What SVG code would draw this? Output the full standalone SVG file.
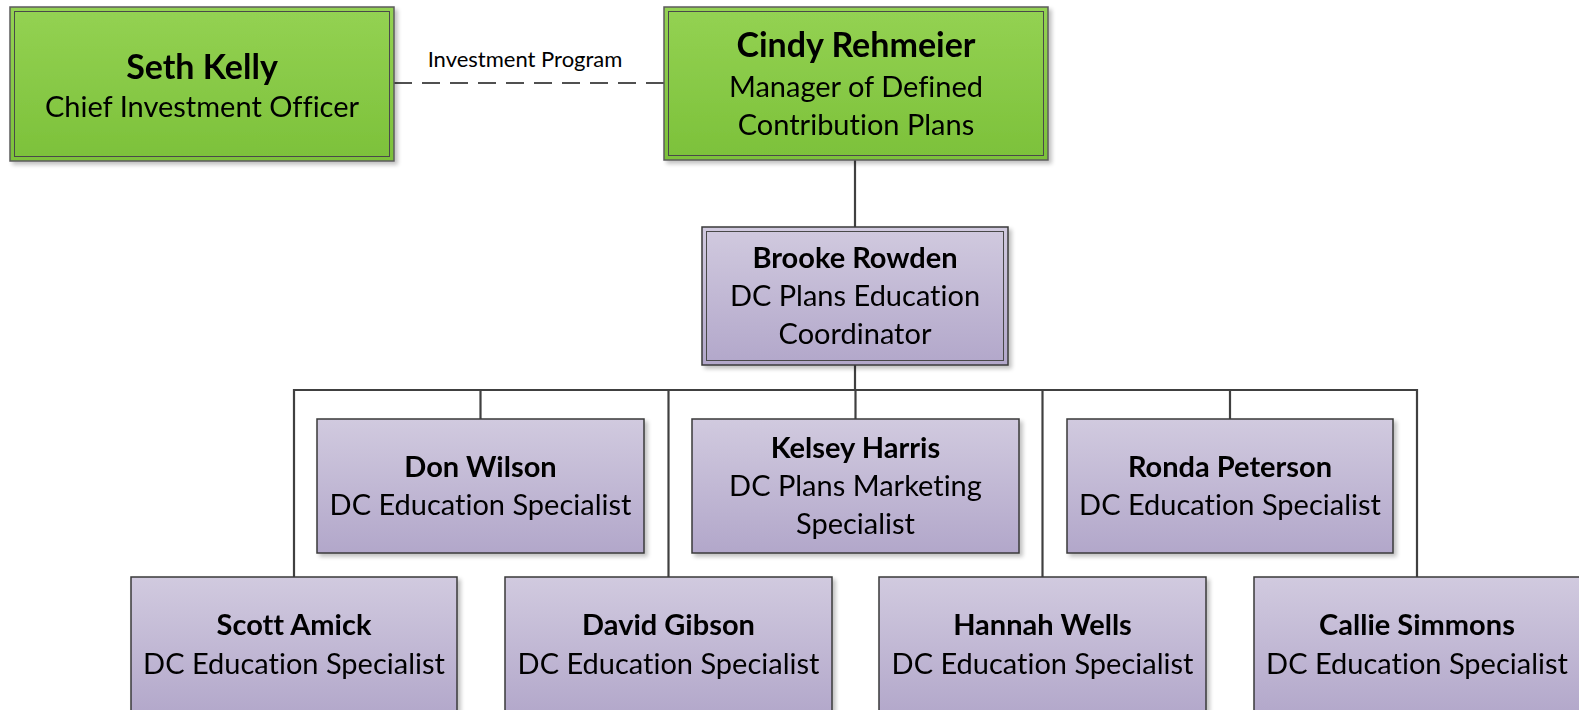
<svg xmlns="http://www.w3.org/2000/svg" width="1579" height="710" viewBox="0 0 1579 710">
<defs>
<linearGradient id="gGreen" x1="0" y1="0" x2="0" y2="1">
<stop offset="0" stop-color="#94d253"/>
<stop offset="1" stop-color="#7cc13a"/>
</linearGradient>
<linearGradient id="gPurple" x1="0" y1="0" x2="0" y2="1">
<stop offset="0" stop-color="#d1cadf"/>
<stop offset="1" stop-color="#b2a7ca"/>
</linearGradient>
<filter id="sh" x="-5%" y="-5%" width="110%" height="115%">
<feGaussianBlur in="SourceAlpha" stdDeviation="2"/>
<feOffset dx="3" dy="3" result="b"/>
<feComponentTransfer><feFuncA type="linear" slope="0.25"/></feComponentTransfer>
<feMerge><feMergeNode/><feMergeNode in="SourceGraphic"/></feMerge>
</filter>
</defs>
<style>
.green{fill:url(#gGreen);stroke:#5b5b5b;stroke-width:1.5}
.purple{fill:url(#gPurple);stroke:#3a3a3a;stroke-width:1.5}
.inner{fill:none;stroke:#4a4a4a;stroke-width:1}
.conn{fill:none;stroke:#404040;stroke-width:2.2}
.dash{fill:none;stroke:#505050;stroke-width:2.2;stroke-dasharray:18 10}
text{font-family:Lato,"Open Sans","Liberation Sans",sans-serif;fill:#000;text-anchor:middle;font-variant-ligatures:none;font-feature-settings:"liga" 0,"clig" 0}
.nm{font-weight:bold;font-size:29px}
.big{font-weight:bold;font-size:34px}
.rl{font-size:29px}
.lbl{font-size:22px}
</style>
<g id="connectors">
<path class="dash" d="M394 83 H664"/>
<text class="lbl" x="525" y="67">Investment Program</text>
<path class="conn" d="M855 160 V227"/>
<path class="conn" d="M855 365 V390"/>
<path class="conn" d="M294 577 V390 H1417 V577"/>
<path class="conn" d="M480.5 390 V419"/>
<path class="conn" d="M855.5 390 V419"/>
<path class="conn" d="M1230 390 V419"/>
<path class="conn" d="M668.5 390 V577"/>
<path class="conn" d="M1042.5 390 V577"/>
</g>
<g id="seth" filter="url(#sh)">
<rect class="green" x="10" y="7" width="384" height="154"/>
<rect class="inner" x="14.5" y="11.5" width="375" height="145"/>
<text class="big" x="202" y="79">Seth Kelly</text>
<text class="rl" x="202" y="117">Chief Investment Officer</text>
</g>
<g id="cindy" filter="url(#sh)">
<rect class="green" x="664" y="7" width="384" height="153"/>
<rect class="inner" x="668.5" y="11.5" width="375" height="144"/>
<text class="big" x="856" y="57">Cindy Rehmeier</text>
<text class="rl" x="856" y="97">Manager of Defined</text>
<text class="rl" x="856" y="135">Contribution Plans</text>
</g>
<g id="brooke" filter="url(#sh)">
<rect class="purple" x="702" y="227" width="306" height="138"/>
<rect class="inner" x="706.5" y="231.5" width="297" height="129"/>
<text class="nm" x="855" y="268">Brooke Rowden</text>
<text class="rl" x="855" y="306">DC Plans Education</text>
<text class="rl" x="855" y="344">Coordinator</text>
</g>
<g id="don" filter="url(#sh)">
<rect class="purple" x="317" y="419" width="327" height="134"/>
<text class="nm" x="480.5" y="477">Don Wilson</text>
<text class="rl" x="480.5" y="515">DC Education Specialist</text>
</g>
<g id="kelsey" filter="url(#sh)">
<rect class="purple" x="692" y="419" width="327" height="134"/>
<text class="nm" x="855.5" y="458">Kelsey Harris</text>
<text class="rl" x="855.5" y="496">DC Plans Marketing</text>
<text class="rl" x="855.5" y="534">Specialist</text>
</g>
<g id="ronda" filter="url(#sh)">
<rect class="purple" x="1067" y="419" width="326" height="134"/>
<text class="nm" x="1230" y="477">Ronda Peterson</text>
<text class="rl" x="1230" y="515">DC Education Specialist</text>
</g>
<g id="scott" filter="url(#sh)">
<rect class="purple" x="131" y="577" width="326" height="140"/>
<text class="nm" x="294" y="635">Scott Amick</text>
<text class="rl" x="294" y="674">DC Education Specialist</text>
</g>
<g id="david" filter="url(#sh)">
<rect class="purple" x="505" y="577" width="327" height="140"/>
<text class="nm" x="668.5" y="635">David Gibson</text>
<text class="rl" x="668.5" y="674">DC Education Specialist</text>
</g>
<g id="hannah" filter="url(#sh)">
<rect class="purple" x="879" y="577" width="327" height="140"/>
<text class="nm" x="1042.5" y="635">Hannah Wells</text>
<text class="rl" x="1042.5" y="674">DC Education Specialist</text>
</g>
<g id="callie" filter="url(#sh)">
<rect class="purple" x="1254" y="577" width="330" height="140"/>
<text class="nm" x="1417" y="635">Callie Simmons</text>
<text class="rl" x="1417" y="674">DC Education Specialist</text>
</g>
</svg>
